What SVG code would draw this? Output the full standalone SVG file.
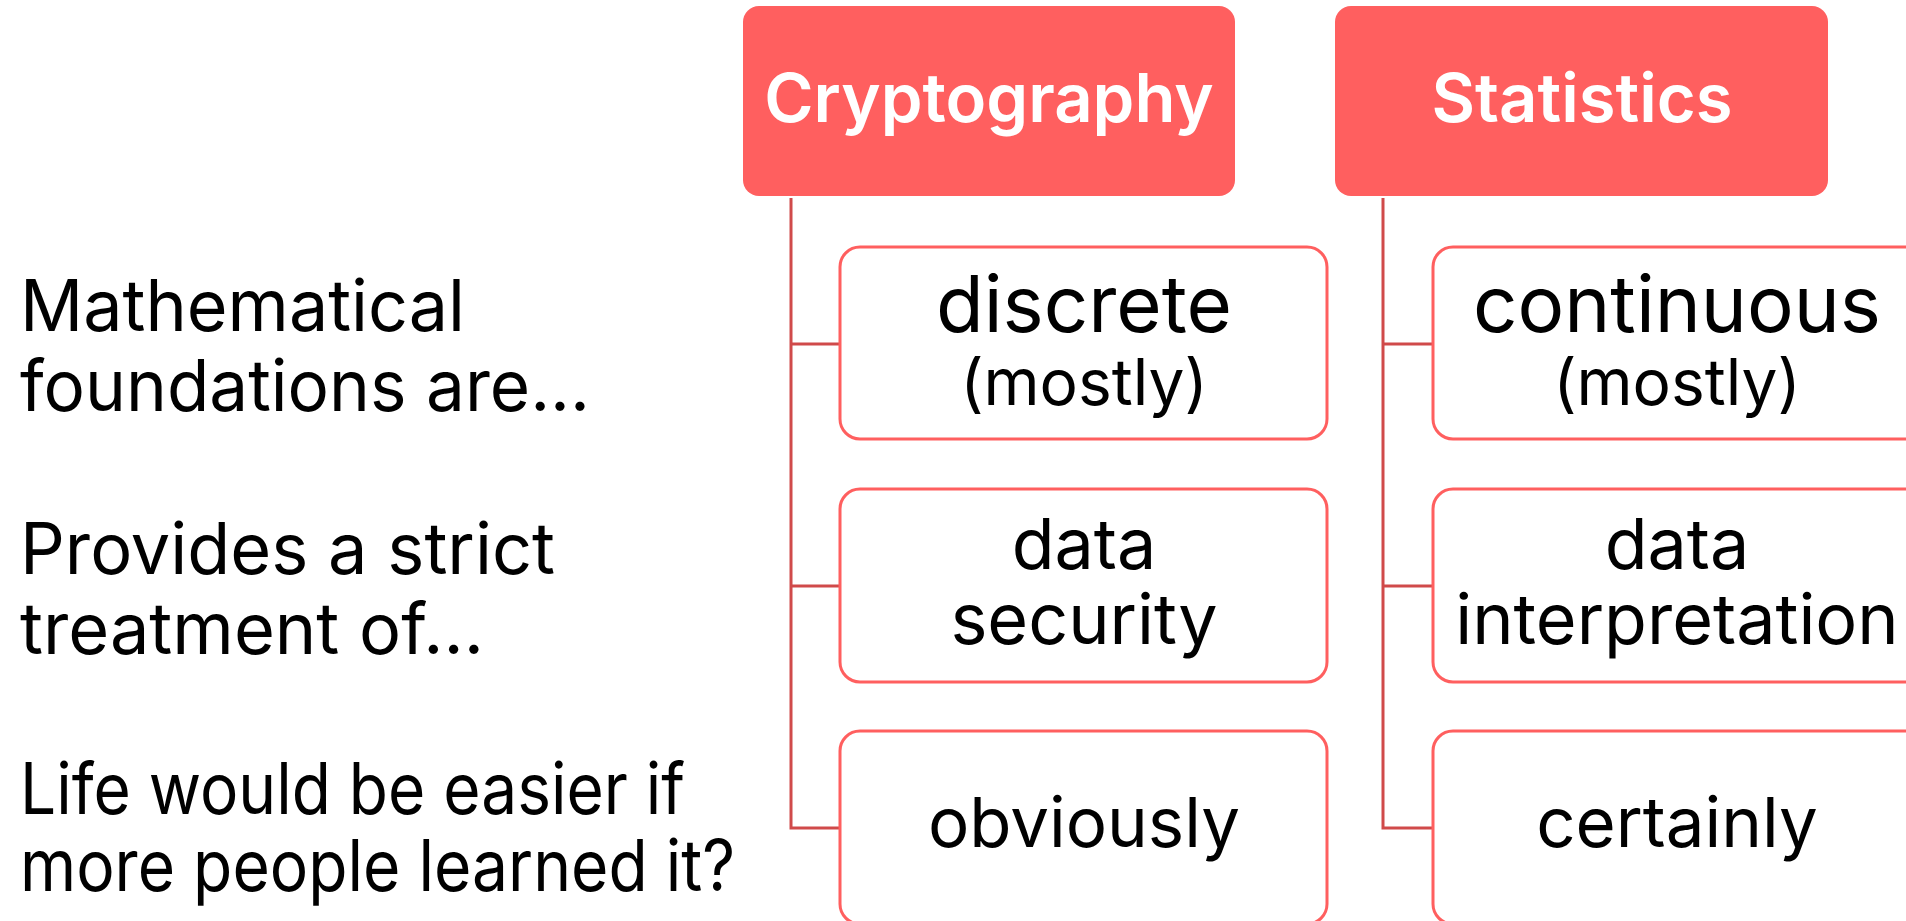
<svg xmlns="http://www.w3.org/2000/svg" width="1906" height="921" viewBox="0 0 1906 921">
<style>
.hdr{fill:#FF5F5F}
.hdrt{font-family:Inter,"Noto Sans",sans-serif;font-weight:600;font-size:67px;fill:#FFFFFF;text-anchor:middle}
.child{fill:#FFFFFF;stroke:#FF5F5F;stroke-width:3}
.ct{font-family:Inter,"Noto Sans",sans-serif;font-size:70px;fill:#000000;text-anchor:middle}
.one{font-size:69px}
.big{font-size:78px}
.small{font-size:64px}
.lt{font-family:Inter,"Noto Sans",sans-serif;font-size:71px;fill:#000000}
.conn{fill:none;stroke:#D04A4A;stroke-width:3}
</style>
<rect width="1906" height="921" fill="#FFFFFF"/>
<g id="questions">
<text class="lt" x="20" y="331" textLength="445" lengthAdjust="spacingAndGlyphs">Mathematical</text>
<text class="lt" x="20" y="411" textLength="570" lengthAdjust="spacingAndGlyphs">foundations are...</text>
<text class="lt" x="20" y="574" textLength="535" lengthAdjust="spacingAndGlyphs">Provides a strict</text>
<text class="lt" x="20" y="654" textLength="464" lengthAdjust="spacingAndGlyphs">treatment of...</text>
<text class="lt" x="20" y="814" textLength="665" lengthAdjust="spacingAndGlyphs">Life would be easier if</text>
<text class="lt" x="20" y="891" textLength="715" lengthAdjust="spacingAndGlyphs">more people learned it?</text>
</g>
<g id="connectors">
<path class="conn" d="M791 198 V828 H840 M791 344 H840 M791 586 H840"/>
<path class="conn" d="M1383 198 V828 H1433 M1383 344 H1433 M1383 586 H1433"/>
</g>
<g id="cryptography">
<rect class="hdr" x="743" y="6" width="492" height="190" rx="16"/>
<text class="hdrt" x="989" y="122">Cryptography</text>
</g>
<g id="statistics">
<rect class="hdr" x="1335" y="6" width="493" height="190" rx="16"/>
<text class="hdrt" x="1582" y="122">Statistics</text>
</g>
<g id="crypto-discrete">
<rect class="child" x="840" y="247" width="487" height="192" rx="20"/>
<text class="ct big" x="1084" y="332">discrete</text>
<text class="ct small" x="1084" y="405">(mostly)</text>
</g>
<g id="crypto-security">
<rect class="child" x="840" y="489" width="487" height="193" rx="20"/>
<text class="ct" x="1084" y="569">data</text>
<text class="ct" x="1084" y="644">security</text>
</g>
<g id="crypto-obviously">
<rect class="child" x="840" y="731" width="487" height="193" rx="20"/>
<text class="ct one" x="1084" y="847">obviously</text>
</g>
<g id="stats-continuous">
<rect class="child" x="1433" y="247" width="520" height="192" rx="20"/>
<text class="ct big" x="1677" y="332">continuous</text>
<text class="ct small" x="1677" y="405">(mostly)</text>
</g>
<g id="stats-interpretation">
<rect class="child" x="1433" y="489" width="520" height="193" rx="20"/>
<text class="ct" x="1677" y="569">data</text>
<text class="ct" x="1677" y="644">interpretation</text>
</g>
<g id="stats-certainly">
<rect class="child" x="1433" y="731" width="520" height="193" rx="20"/>
<text class="ct one" x="1677" y="847">certainly</text>
</g>
</svg>
